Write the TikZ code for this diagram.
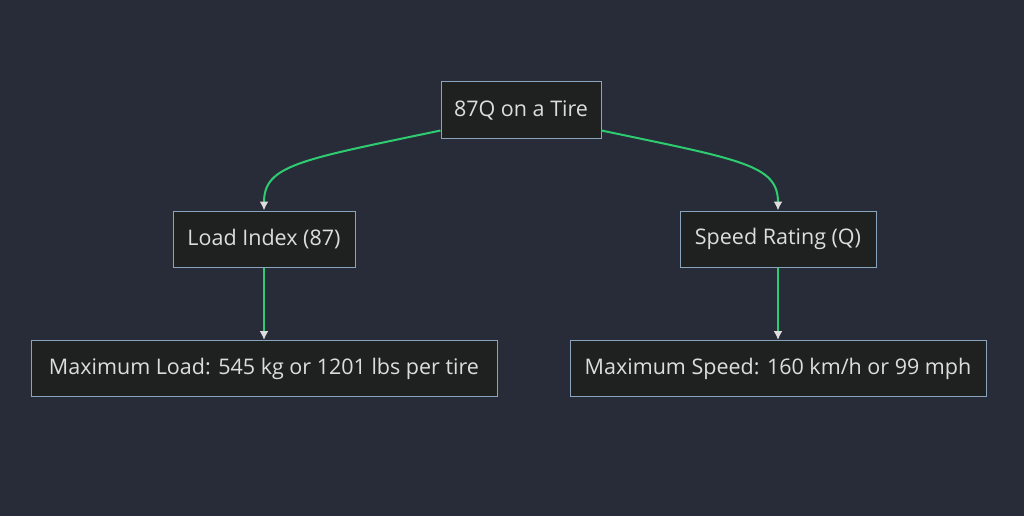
\documentclass[tikz,border=0pt]{standalone}
\usepackage{fontspec}
\setmainfont{Open Sans}
\usetikzlibrary{arrows.meta}
\definecolor{bg}{HTML}{282C38}
\definecolor{nodefill}{HTML}{1F2020}
\definecolor{nodeborder}{HTML}{8AA4BD}
\definecolor{txt}{HTML}{DDDDDD}
\definecolor{edge}{HTML}{2ECC71}
\begin{document}
\begin{tikzpicture}[x=1pt,y=-1pt,
  box/.style={draw=nodeborder,fill=nodefill,text=txt,line width=1pt,minimum height=56pt,inner xsep=10pt,font=\fontsize{21.5}{25}\selectfont},
  link/.style={draw=edge,line width=2pt,-{Latex[length=9pt,width=9pt,color=txt]}}]
\fill[bg] (0,0) rectangle (1024,516);
\useasboundingbox (0,0) rectangle (1024,516);
\node[box,minimum width=160pt] (top) at (521,110) {87Q on a Tire};
\node[box,minimum width=182pt] (li) at (264,239) {Load Index (87)};
\node[box,minimum width=196pt] (sr) at (778,239) {Speed Rating (Q)};
\node[box,minimum width=466pt] (ml) at (264,368.5) {Maximum Load: 545 kg or 1201 lbs per tire};
\node[box,minimum width=416pt] (ms) at (778,368.5) {Maximum Speed: 160 km/h or 99 mph};
\draw[link] ([yshift=8pt]top.south west) .. controls (300,160) and (264,165) .. (li.north);
\draw[link] ([yshift=8pt]top.south east) .. controls (742,160) and (778,165) .. (sr.north);
\draw[link] (li.south) -- (ml.north);
\draw[link] (sr.south) -- (ms.north);
\end{tikzpicture}
\end{document}
